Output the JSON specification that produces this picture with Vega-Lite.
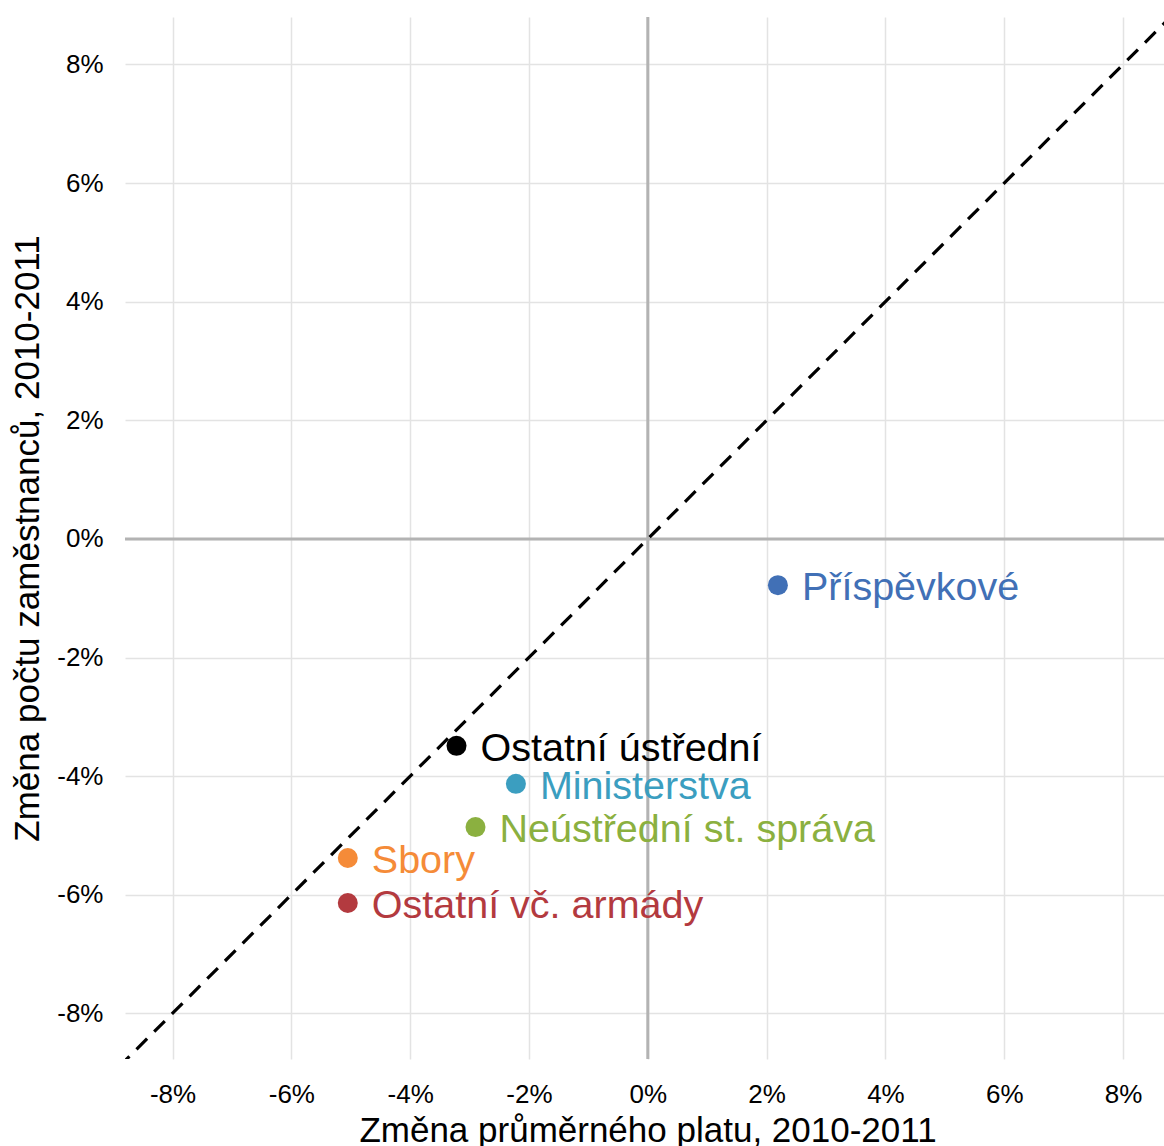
{
  "$schema": "https://vega.github.io/schema/vega-lite/v6.json",
  "autosize": "none",
  "padding": {"left": 125, "top": 17, "right": 0, "bottom": 87},
  "width": 1045,
  "height": 1042,
  "config": {
    "font": "Liberation Sans",
    "view": {"stroke": null},
    "axis": {"domain": false, "ticks": false, "gridColor": "#e3e3e3", "gridWidth": 1.5, "labelColor": "#000", "titleColor": "#000", "labelFontSize": 26, "titleFontSize": 35, "titleFontWeight": "normal"}
  },
  "datasets": {
    "pts": [
      {"name": "Příspěvkové", "x": 0.0219, "y": -0.0078},
      {"name": "Ostatní ústřední", "x": -0.0322, "y": -0.0349},
      {"name": "Ministerstva", "x": -0.0222, "y": -0.0413},
      {"name": "Neústřední st. správa", "x": -0.029, "y": -0.0486},
      {"name": "Sbory", "x": -0.0505, "y": -0.0538},
      {"name": "Ostatní vč. armády", "x": -0.0505, "y": -0.0614}
    ],
    "diag": [{"x": -0.095, "y": -0.095}, {"x": 0.095, "y": 0.095}],
    "zero": [{"v": 0}]
  },
  "layer": [
    {
      "data": {"name": "zero"},
      "mark": {"type": "rule", "color": "#b3b3b3", "strokeWidth": 3},
      "encoding": {
        "x": {"field": "v", "type": "quantitative", "scale": {"domain": [-0.088, 0.0879], "nice": false, "zero": false},
          "axis": {"values": [-0.08, -0.06, -0.04, -0.02, 0, 0.02, 0.04, 0.06, 0.08], "labelExpr": "round(datum.value*100) + '%'", "labelPadding": 22, "title": "Změna průměrného platu, 2010-2011", "titlePadding": 6}}
      }
    },
    {
      "data": {"name": "zero"},
      "mark": {"type": "rule", "color": "#b3b3b3", "strokeWidth": 3},
      "encoding": {
        "y": {"field": "v", "type": "quantitative", "scale": {"domain": [-0.0877, 0.088], "nice": false, "zero": false},
          "axis": {"values": [-0.08, -0.06, -0.04, -0.02, 0, 0.02, 0.04, 0.06, 0.08], "labelExpr": "round(datum.value*100) + '%'", "labelPadding": 22, "title": "Změna počtu zaměstnanců, 2010-2011", "titlePadding": 11}}
      }
    },
    {
      "data": {"name": "diag"},
      "mark": {"type": "line", "color": "#000", "strokeWidth": 3.2, "strokeDash": [15, 10], "clip": true},
      "encoding": {
        "x": {"field": "x", "type": "quantitative"},
        "y": {"field": "y", "type": "quantitative"}
      }
    },
    {
      "data": {"name": "pts"},
      "mark": {"type": "circle", "size": 400, "opacity": 1},
      "encoding": {
        "x": {"field": "x", "type": "quantitative"},
        "y": {"field": "y", "type": "quantitative"},
        "color": {"field": "name", "type": "nominal", "legend": null,
          "scale": {"domain": ["Příspěvkové", "Ostatní ústřední", "Ministerstva", "Neústřední st. správa", "Sbory", "Ostatní vč. armády"],
                    "range": ["#4170b6", "#000000", "#3b9ec0", "#8bb040", "#f58b38", "#b33a3f"]}}
      }
    },
    {
      "data": {"name": "pts"},
      "mark": {"type": "text", "align": "left", "baseline": "middle", "dx": 24, "dy": 3, "fontSize": 39.5},
      "encoding": {
        "x": {"field": "x", "type": "quantitative"},
        "y": {"field": "y", "type": "quantitative"},
        "text": {"field": "name"},
        "color": {"field": "name", "type": "nominal", "legend": null}
      }
    }
  ]
}
